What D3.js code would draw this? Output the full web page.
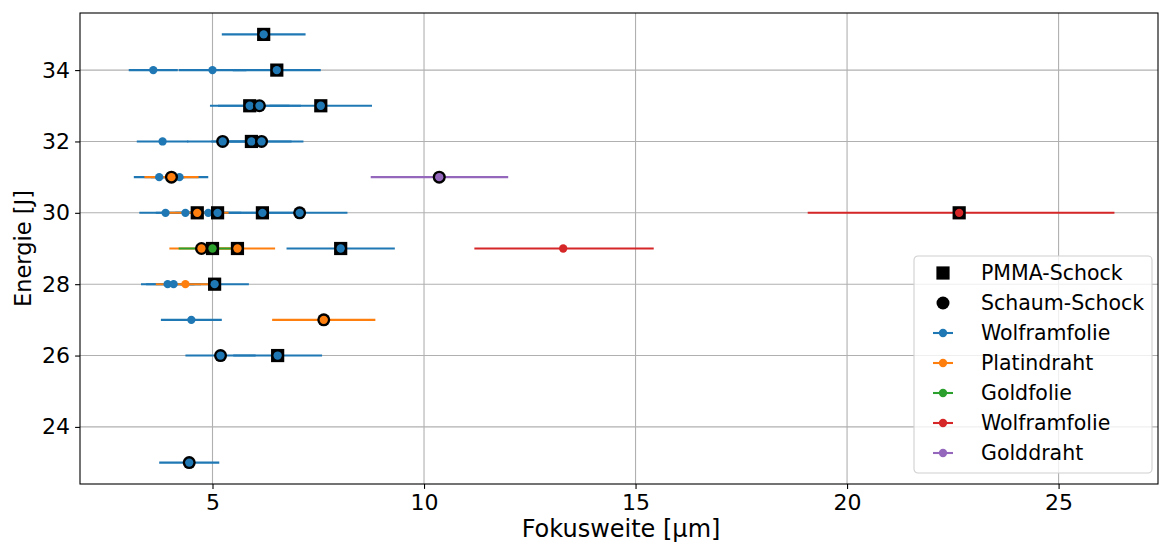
<!DOCTYPE html>
<html><head><meta charset="utf-8">
<script src="https://cdn.jsdelivr.net/npm/d3@7"></script>
<style>body{margin:0;background:#fff} svg{display:block} text{font-family:"DejaVu Sans",sans-serif;fill:#000}</style>
</head><body><svg id="c" width="1160" height="545"></svg>
<script>
// ---- data ----
const seriesNames = ["Wolframfolie","Platindraht","Goldfolie","Wolframfolie","Golddraht"];
const seriesColors = ["#1f77b4","#ff7f0e","#2ca02c","#d62728","#9467bd"];
const shockNames = ["PMMA-Schock","Schaum-Schock"];
// per measurement: series index, energy [J], focus [µm], shock type (P = PMMA, S = Schaum, "" = none), errors
const pointSeries = [0,0,0,0,0,0,0,0,0,0,0,0,0,0,0,0,0,0,0,0,0,0,0,0,0,0,0, 1,1,1,1,1,1, 2, 3,3, 4];
const pointEnergy = [35,34,34,34,33,33,33,32,32,32,32,31,31,30,30,30,30,30,30,29,28,28,28,27,26,26,23, 31,30,29,29,28,27, 29, 30,29, 31];
const pointFocus  = [6.21,3.60,5.00,6.52,5.88,6.11,7.56,3.82,5.24,5.92,6.16,3.74,4.22,3.89,4.36,4.90,5.12,6.18,7.06,8.03,3.94,4.08,5.05,4.50,5.19,6.54,4.45,
                     4.03,4.64,4.74,5.59,4.36,7.63, 5.00, 22.65,13.29, 10.36];
const pointShock  = ["P","","","P","P","S","P","","S","P","S","","","","","","P","P","S","P","","","P","","S","P","S",
                     "S","P","S","P","","S", "P", "P","", "S"];
const pointErrLo  = [0.99,0.58,0.80,1.04,0.94,0.98,1.21,0.61,0.84,0.95,0.99,0.60,0.68,0.62,0.70,0.78,0.82,0.99,1.13,1.28,0.63,0.65,0.81,0.72,0.83,1.05,0.71,
                     0.64,0.74,0.76,0.89,0.70,1.22, 0.80, 3.58,2.10, 1.62];
const pointErrHi  = [0.99,0.58,0.80,1.04,0.94,0.98,1.21,0.61,0.84,0.95,0.99,0.60,0.68,0.62,0.70,0.78,0.82,0.99,1.13,1.28,0.63,0.65,0.81,0.72,0.83,1.05,0.71,
                     0.64,0.74,0.76,0.89,0.70,1.22, 0.43, 3.67,2.14, 1.63];
const xTicks = [5,10,15,20,25];
const yTicks = [24,26,28,30,32,34];
const xLabel = "Fokusweite [µm]";
const yLabel = "Energie [J]";

// ---- layout ----
const W = 1160, H = 545;
const m = {left:80, right:2, top:13, bottom:61};
const svg = d3.select("#c");
const x = d3.scaleLinear().domain([1.868, 27.35]).range([m.left, W - m.right]);
const y = d3.scaleLinear().domain([22.4, 35.6]).range([H - m.bottom, m.top]);

const pts = pointFocus.map((f,i)=>({f, e:pointEnergy[i], s:pointSeries[i], k:pointShock[i], lo:pointErrLo[i], hi:pointErrHi[i]}));

// grid
const g = svg.append("g");
g.selectAll(".gx").data(xTicks).join("line")
  .attr("x1",d=>x(d)).attr("x2",d=>x(d)).attr("y1",m.top).attr("y2",H-m.bottom)
  .attr("stroke","#b0b0b0").attr("stroke-width",1.1);
g.selectAll(".gy").data(yTicks).join("line")
  .attr("y1",d=>y(d)).attr("y2",d=>y(d)).attr("x1",m.left).attr("x2",W-m.right)
  .attr("stroke","#b0b0b0").attr("stroke-width",1.1);

// error bars: drawn by series order
const order = d3.range(pts.length).sort((a,b)=>pts[a].s - pts[b].s || a-b);
svg.append("g").selectAll("line").data(order.map(i=>pts[i])).join("line")
  .attr("x1",d=>x(d.f-d.lo)).attr("x2",d=>x(d.f+d.hi))
  .attr("y1",d=>y(d.e)).attr("y2",d=>y(d.e))
  .attr("stroke",d=>seriesColors[d.s]).attr("stroke-width",2.1);

// markers
const mk = svg.append("g");
order.forEach(i=>{
  const d = pts[i];
  const cx = x(d.f), cy = y(d.e);
  if (d.k === "P") {
    mk.append("rect").attr("x",cx-6.6).attr("y",cy-6.6).attr("width",13.2).attr("height",13.2).attr("fill","#000");
  } else if (d.k === "S") {
    mk.append("circle").attr("cx",cx).attr("cy",cy).attr("r",6.5).attr("fill","#000");
  }
  mk.append("circle").attr("cx",cx).attr("cy",cy).attr("r",4.15).attr("fill",seriesColors[d.s]);
});

// axes
const xAxis = d3.axisBottom(x).tickValues(xTicks).tickSize(4.9).tickPadding(5).tickFormat(d3.format("d"));
const yAxis = d3.axisLeft(y).tickValues(yTicks).tickSize(4.9).tickPadding(5).tickFormat(d3.format("d"));
const gx = svg.append("g").attr("transform",`translate(0,${H-m.bottom})`).call(xAxis);
const gy = svg.append("g").attr("transform",`translate(${m.left},0)`).call(yAxis);
[gx,gy].forEach(a=>{
  a.select(".domain").remove();
  a.selectAll(".tick line").attr("stroke","#000").attr("stroke-width",1.1);
  a.selectAll(".tick text").attr("font-size",22).attr("fill","#000").attr("font-family","DejaVu Sans");
});
// frame
svg.append("rect").attr("x",m.left).attr("y",m.top).attr("width",W-m.right-m.left).attr("height",H-m.bottom-m.top)
  .attr("fill","none").attr("stroke","#000").attr("stroke-width",1.1);

// labels
svg.append("text").attr("x",(m.left+W-m.right)/2+2).attr("y",537).attr("text-anchor","middle").attr("font-size",24).text(xLabel);
svg.append("text").attr("transform",`translate(31,${(m.top+H-m.bottom)/2}) rotate(-90)`).attr("text-anchor","middle").attr("font-size",22.5).text(yLabel);

// legend
const lg = svg.append("g").attr("transform","translate(914,256)");
lg.append("rect").attr("width",238).attr("height",217).attr("rx",4).attr("fill","#fff").attr("fill-opacity",0.8)
  .attr("stroke","#d0d0d0").attr("stroke-width",1.1);
const items = [
  {label:shockNames[0], type:"sq"},
  {label:shockNames[1], type:"ci"},
  ...seriesNames.map((n,i)=>({label:n, type:"ln", color:seriesColors[i]}))
];
items.forEach((it,i)=>{
  const cy = 17 + i*30, hx = 29;
  if (it.type==="sq") lg.append("rect").attr("x",hx-6.6).attr("y",cy-6.6).attr("width",13.2).attr("height",13.2).attr("fill","#000");
  else if (it.type==="ci") lg.append("circle").attr("cx",hx).attr("cy",cy).attr("r",6.5).attr("fill","#000");
  else {
    lg.append("line").attr("x1",hx-10).attr("x2",hx+10).attr("y1",cy).attr("y2",cy).attr("stroke",it.color).attr("stroke-width",2.1);
    lg.append("circle").attr("cx",hx).attr("cy",cy).attr("r",4.15).attr("fill",it.color);
  }
  lg.append("text").attr("x",67).attr("y",cy).attr("dy","0.36em").attr("font-size",20.5).text(it.label);
});
</script></body></html>
